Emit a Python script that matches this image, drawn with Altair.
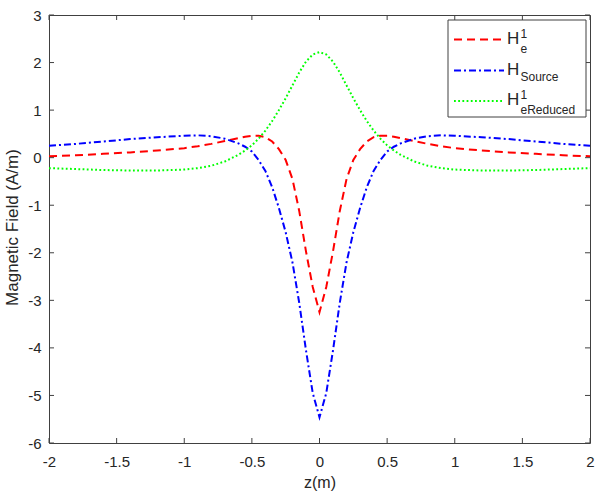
import altair as alt
import pandas as pd

# ---------------- data ----------------
z = [-2.0, -1.8, -1.6, -1.4, -1.2, -1.0, -0.9, -0.8, -0.7, -0.6, -0.55, -0.5,
     -0.45, -0.4, -0.35, -0.3, -0.25, -0.2, -0.15, -0.1, -0.05, 0.0,
     0.05, 0.1, 0.15, 0.2, 0.25, 0.3, 0.35, 0.4, 0.45, 0.5, 0.55, 0.6,
     0.7, 0.8, 0.9, 1.0, 1.2, 1.4, 1.6, 1.8, 2.0]

h_e1 = [0.03, 0.05, 0.08, 0.11, 0.15, 0.20, 0.24, 0.29, 0.35, 0.41, 0.44, 0.46,
        0.46, 0.43, 0.34, 0.18, -0.05, -0.45, -1.12, -1.97, -2.72, -3.25,
        -2.72, -1.97, -1.12, -0.45, -0.05, 0.18, 0.34, 0.43, 0.46, 0.46, 0.44, 0.41,
        0.35, 0.29, 0.24, 0.20, 0.15, 0.11, 0.08, 0.05, 0.03]

h_source = [0.25, 0.29, 0.34, 0.39, 0.43, 0.46, 0.47, 0.45, 0.40, 0.30, 0.23, 0.13,
            -0.05, -0.28, -0.62, -1.06, -1.57, -2.20, -3.05, -4.05, -4.95, -5.46,
            -4.95, -4.05, -3.05, -2.20, -1.57, -1.06, -0.62, -0.28, -0.05, 0.13, 0.23, 0.30,
            0.40, 0.45, 0.47, 0.46, 0.43, 0.39, 0.34, 0.29, 0.25]

h_ered = [-0.22, -0.24, -0.26, -0.27, -0.27, -0.25, -0.22, -0.17, -0.08, 0.06, 0.15, 0.26,
          0.40, 0.57, 0.77, 1.00, 1.25, 1.52, 1.79, 2.02, 2.17, 2.22,
          2.17, 2.02, 1.79, 1.52, 1.25, 1.00, 0.77, 0.57, 0.40, 0.26, 0.15, 0.06,
          -0.08, -0.17, -0.22, -0.25, -0.27, -0.27, -0.26, -0.24, -0.22]

x_ticks = [-2, -1.5, -1, -0.5, 0, 0.5, 1, 1.5, 2]
y_ticks = [-6, -5, -4, -3, -2, -1, 0, 1, 2, 3]

x_title = "z(m)"
y_title = "Magnetic Field (A/m)"
legend_main = ["H", "H", "H"]
legend_sup = ["1", "", "1"]
legend_sub = ["e", "Source", "eReduced"]

# ---------------- styling ----------------
FONT = "Liberation Sans"
AX = "#404040"
TXT = "#262626"
W, H = 541, 428

df = pd.DataFrame({"z": z, "he1": h_e1, "hsrc": h_source, "hred": h_ered})
xt = pd.DataFrame({"t": x_ticks})
yt = pd.DataFrame({"t": y_ticks})
one = pd.DataFrame({"a": [0]})

xs = alt.Scale(domain=[-2, 2], nice=False, zero=False)
ys = alt.Scale(domain=[-6, 3], nice=False, zero=False)

x_axis = alt.Axis(values=x_ticks, labelExpr="'' + datum.value", tickSize=0, domain=False,
                  grid=False, labelPadding=11, labelFontSize=15, labelFont=FONT,
                  labelColor=TXT, labelFlush=False, labelOverlap=False,
                  title=x_title, titleFont=FONT, titleFontSize=16, titleFontWeight="normal",
                  titleColor=TXT, titleX=W / 2, titleY=44, titleBaseline="alphabetic",
                  titleAlign="center")
y_axis = alt.Axis(values=y_ticks, labelExpr="'' + datum.value", tickSize=0, domain=False,
                  grid=False, labelPadding=8, labelFontSize=15, labelFont=FONT,
                  labelColor=TXT, labelFlush=False, labelOverlap=False,
                  title=y_title, titleFont=FONT, titleFontSize=17, titleFontWeight="normal",
                  titleColor=TXT, titleX=-37, titleY=H / 2 - 2, titleBaseline="middle",
                  titleAlign="center", titleAngle=270)


def X(field):
    return alt.X(field, scale=xs, axis=x_axis)


def Y(field):
    return alt.Y(field, scale=ys, axis=y_axis)


RED_DASH = [8, 5]
BLUE_DASH = [7, 3, 2, 3]
GREEN_DASH = [1.8, 2.4]

red = alt.Chart(df).mark_line(color="#ff0000", strokeWidth=2, strokeDash=RED_DASH).encode(
    x=X("z:Q"), y=Y("he1:Q"))
blue = alt.Chart(df).mark_line(color="#0000ff", strokeWidth=2, strokeDash=BLUE_DASH).encode(
    x=X("z:Q"), y=Y("hsrc:Q"))
green = alt.Chart(df).mark_line(color="#00ff00", strokeWidth=2, strokeDash=GREEN_DASH).encode(
    x=X("z:Q"), y=Y("hred:Q"))

TL = 5
tick_b = alt.Chart(xt).mark_rule(color=AX, strokeWidth=1).encode(
    x=X("t:Q"), y=alt.value(H), y2=alt.value(H - TL))
tick_t = alt.Chart(xt).mark_rule(color=AX, strokeWidth=1).encode(
    x=X("t:Q"), y=alt.value(0), y2=alt.value(TL))
tick_l = alt.Chart(yt).mark_rule(color=AX, strokeWidth=1).encode(
    y=Y("t:Q"), x=alt.value(0), x2=alt.value(TL))
tick_r = alt.Chart(yt).mark_rule(color=AX, strokeWidth=1).encode(
    y=Y("t:Q"), x=alt.value(W), x2=alt.value(W - TL))

# ---------------- legend (drawn by hand for sub/superscripts) ----------------
LX0, LX1, LY0, LY1 = 399, 537, 5, 102
leg_box = alt.Chart(one).mark_rect(fill="white", stroke=AX, strokeWidth=1).encode(
    x=alt.value(LX0), x2=alt.value(LX1), y=alt.value(LY0), y2=alt.value(LY1))

rows_y = [24.5, 55.5, 86]
colors = ["#ff0000", "#0000ff", "#00ff00"]
dashes = [RED_DASH, BLUE_DASH, GREEN_DASH]
leg_layers = [leg_box]
for i in range(3):
    ry = rows_y[i]
    leg_layers.append(alt.Chart(one).mark_rule(color=colors[i], strokeWidth=2,
                                               strokeDash=dashes[i]).encode(
        x=alt.value(405), x2=alt.value(455), y=alt.value(ry)))
    leg_layers.append(alt.Chart(one).mark_text(align="left", baseline="middle", font=FONT,
                                               fontSize=17, color=TXT).encode(
        x=alt.value(458), y=alt.value(ry - 1), text=alt.value(legend_main[i])))
    has_sup = legend_sup[i] != ""
    if has_sup:
        leg_layers.append(alt.Chart(one).mark_text(align="left", baseline="middle", font=FONT,
                                                   fontSize=12, color=TXT).encode(
            x=alt.value(471.5), y=alt.value(ry - 6), text=alt.value(legend_sup[i])))
    leg_layers.append(alt.Chart(one).mark_text(align="left", baseline="middle", font=FONT,
                                               fontSize=12, color=TXT).encode(
        x=alt.value(471.5), y=alt.value(ry + (9 if has_sup else 6)),
        text=alt.value(legend_sub[i])))

chart = alt.layer(red, blue, green, tick_b, tick_t, tick_l, tick_r, *leg_layers).properties(
    width=W, height=H,
    padding={"left": 49, "top": 15, "right": 5, "bottom": 48},
    autosize=alt.AutoSizeParams(type="none"),
    background="white",
).configure_view(stroke=AX, strokeWidth=1)

chart.save("out.html", embed_options={"renderer": "svg", "actions": False})
